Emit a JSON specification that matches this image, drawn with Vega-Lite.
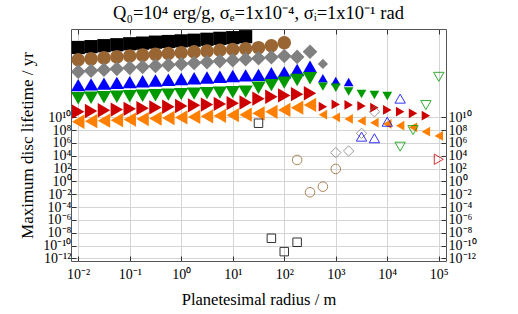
{
  "$schema": "https://vega.github.io/schema/vega-lite/v6.json",
  "width": 375,
  "height": 232,
  "autosize": {"type": "none"},
  "padding": {"left": 71, "top": 29, "right": 72, "bottom": 53},
  "title": {"text": "Q₀=10⁴ erg/g, σₑ=1x10⁻⁴, σᵢ=1x10⁻¹ rad", "font": "Liberation Serif", "fontSize": 18.5, "fontWeight": "normal", "color": "#000", "offset": 6, "anchor": "middle"},
  "config": {
    "view": {"stroke": "#555", "strokeWidth": 1},
    "axis": {"labelFont": "Liberation Serif", "labelFontSize": 14, "labelColor": "#000", "titleFont": "Liberation Serif", "titleFontSize": 16.5, "titleFontWeight": "normal", "titleColor": "#000", "domain": false, "tickColor": "#333", "tickSize": -5, "gridColor": "#d4d4d4", "gridWidth": 1, "labelOverlap": false, "labelBound": false, "labelFlush": false}
  },
  "datasets": {
    "filled": [
      {"series":"black","group":"big","log_radius":-2,"log_lifetime":20.87},
      {"series":"black","group":"big","log_radius":-1.75,"log_lifetime":21.0},
      {"series":"black","group":"big","log_radius":-1.5,"log_lifetime":21.15},
      {"series":"black","group":"big","log_radius":-1.25,"log_lifetime":21.3},
      {"series":"black","group":"big","log_radius":-1,"log_lifetime":21.45},
      {"series":"black","group":"big","log_radius":-0.75,"log_lifetime":21.55},
      {"series":"black","group":"big","log_radius":-0.5,"log_lifetime":21.7},
      {"series":"black","group":"big","log_radius":-0.25,"log_lifetime":21.8},
      {"series":"black","group":"big","log_radius":0,"log_lifetime":21.9},
      {"series":"black","group":"big","log_radius":0.25,"log_lifetime":22.0},
      {"series":"black","group":"big","log_radius":0.5,"log_lifetime":22.15},
      {"series":"black","group":"big","log_radius":0.75,"log_lifetime":22.3},
      {"series":"black","group":"big","log_radius":1,"log_lifetime":22.4},
      {"series":"black","group":"big","log_radius":1.25,"log_lifetime":22.55},

      {"series":"brown","group":"big","log_radius":-2,"log_lifetime":18.95},
      {"series":"brown","group":"big","log_radius":-1.75,"log_lifetime":19.1},
      {"series":"brown","group":"big","log_radius":-1.5,"log_lifetime":19.25},
      {"series":"brown","group":"big","log_radius":-1.25,"log_lifetime":19.4},
      {"series":"brown","group":"big","log_radius":-1,"log_lifetime":19.55},
      {"series":"brown","group":"big","log_radius":-0.75,"log_lifetime":19.68},
      {"series":"brown","group":"big","log_radius":-0.5,"log_lifetime":19.8},
      {"series":"brown","group":"big","log_radius":-0.25,"log_lifetime":19.93},
      {"series":"brown","group":"big","log_radius":0,"log_lifetime":20.05},
      {"series":"brown","group":"big","log_radius":0.25,"log_lifetime":20.18},
      {"series":"brown","group":"big","log_radius":0.5,"log_lifetime":20.3},
      {"series":"brown","group":"big","log_radius":0.75,"log_lifetime":20.43},
      {"series":"brown","group":"big","log_radius":1,"log_lifetime":20.55},
      {"series":"brown","group":"big","log_radius":1.25,"log_lifetime":20.68},
      {"series":"brown","group":"big","log_radius":1.5,"log_lifetime":20.84},
      {"series":"brown","group":"big","log_radius":1.75,"log_lifetime":21.15},
      {"series":"brown","group":"big","log_radius":2,"log_lifetime":21.6},

      {"series":"gray","group":"big","log_radius":-2,"log_lifetime":17.1},
      {"series":"gray","group":"big","log_radius":-1.75,"log_lifetime":17.25},
      {"series":"gray","group":"big","log_radius":-1.5,"log_lifetime":17.4},
      {"series":"gray","group":"big","log_radius":-1.25,"log_lifetime":17.55},
      {"series":"gray","group":"big","log_radius":-1,"log_lifetime":17.7},
      {"series":"gray","group":"big","log_radius":-0.75,"log_lifetime":17.85},
      {"series":"gray","group":"big","log_radius":-0.5,"log_lifetime":18.0},
      {"series":"gray","group":"big","log_radius":-0.25,"log_lifetime":18.15},
      {"series":"gray","group":"big","log_radius":0,"log_lifetime":18.3},
      {"series":"gray","group":"big","log_radius":0.25,"log_lifetime":18.45},
      {"series":"gray","group":"big","log_radius":0.5,"log_lifetime":18.6},
      {"series":"gray","group":"big","log_radius":0.75,"log_lifetime":18.75},
      {"series":"gray","group":"big","log_radius":1,"log_lifetime":18.9},
      {"series":"gray","group":"big","log_radius":1.25,"log_lifetime":19.05},
      {"series":"gray","group":"big","log_radius":1.5,"log_lifetime":19.2},
      {"series":"gray","group":"big","log_radius":1.75,"log_lifetime":19.35},
      {"series":"gray","group":"big","log_radius":2,"log_lifetime":19.55},
      {"series":"gray","group":"big","log_radius":2.25,"log_lifetime":19.4},
      {"series":"gray","group":"big","log_radius":2.5,"log_lifetime":20.2},
      {"series":"gray","group":"small","log_radius":2.75,"log_lifetime":18.3},

      {"series":"blue","group":"big","log_radius":-2,"log_lifetime":15.0},
      {"series":"blue","group":"big","log_radius":-1.75,"log_lifetime":15.12},
      {"series":"blue","group":"big","log_radius":-1.5,"log_lifetime":15.24},
      {"series":"blue","group":"big","log_radius":-1.25,"log_lifetime":15.36},
      {"series":"blue","group":"big","log_radius":-1,"log_lifetime":15.48},
      {"series":"blue","group":"big","log_radius":-0.75,"log_lifetime":15.6},
      {"series":"blue","group":"big","log_radius":-0.5,"log_lifetime":15.72},
      {"series":"blue","group":"big","log_radius":-0.25,"log_lifetime":15.84},
      {"series":"blue","group":"big","log_radius":0,"log_lifetime":15.96},
      {"series":"blue","group":"big","log_radius":0.25,"log_lifetime":16.08},
      {"series":"blue","group":"big","log_radius":0.5,"log_lifetime":16.2},
      {"series":"blue","group":"big","log_radius":0.75,"log_lifetime":16.32},
      {"series":"blue","group":"big","log_radius":1,"log_lifetime":16.44},
      {"series":"blue","group":"big","log_radius":1.25,"log_lifetime":16.52},
      {"series":"blue","group":"big","log_radius":1.5,"log_lifetime":16.6},
      {"series":"blue","group":"big","log_radius":1.75,"log_lifetime":16.85},
      {"series":"blue","group":"big","log_radius":2,"log_lifetime":17.0},
      {"series":"blue","group":"big","log_radius":2.25,"log_lifetime":17.37},
      {"series":"blue","group":"big","log_radius":2.5,"log_lifetime":17.88},
      {"series":"blue","group":"small","log_radius":2.75,"log_lifetime":16.07},
      {"series":"blue","group":"small","log_radius":3,"log_lifetime":15.65},
      {"series":"blue","group":"small","log_radius":3.25,"log_lifetime":15.5},

      {"series":"green","group":"big","log_radius":-2,"log_lifetime":12.96},
      {"series":"green","group":"big","log_radius":-1.75,"log_lifetime":13.04},
      {"series":"green","group":"big","log_radius":-1.5,"log_lifetime":13.12},
      {"series":"green","group":"big","log_radius":-1.25,"log_lifetime":13.2},
      {"series":"green","group":"big","log_radius":-1,"log_lifetime":13.28},
      {"series":"green","group":"big","log_radius":-0.75,"log_lifetime":13.36},
      {"series":"green","group":"big","log_radius":-0.5,"log_lifetime":13.44},
      {"series":"green","group":"big","log_radius":-0.25,"log_lifetime":13.52},
      {"series":"green","group":"big","log_radius":0,"log_lifetime":13.6},
      {"series":"green","group":"big","log_radius":0.25,"log_lifetime":13.68},
      {"series":"green","group":"big","log_radius":0.5,"log_lifetime":13.76},
      {"series":"green","group":"big","log_radius":0.75,"log_lifetime":13.84},
      {"series":"green","group":"big","log_radius":1,"log_lifetime":13.92},
      {"series":"green","group":"big","log_radius":1.25,"log_lifetime":14.0},
      {"series":"green","group":"big","log_radius":1.5,"log_lifetime":14.6},
      {"series":"green","group":"big","log_radius":1.75,"log_lifetime":15.0},
      {"series":"green","group":"big","log_radius":2,"log_lifetime":15.4},
      {"series":"green","group":"big","log_radius":2.25,"log_lifetime":15.8},
      {"series":"green","group":"big","log_radius":2.5,"log_lifetime":16.07},
      {"series":"green","group":"small","log_radius":2.75,"log_lifetime":14.77},
      {"series":"green","group":"small","log_radius":3,"log_lifetime":14.6},
      {"series":"green","group":"small","log_radius":3.25,"log_lifetime":14.0},
      {"series":"green","group":"small","log_radius":3.5,"log_lifetime":13.63},
      {"series":"green","group":"small","log_radius":3.75,"log_lifetime":13.47},
      {"series":"green","group":"small","log_radius":4,"log_lifetime":13.32},

      {"series":"red","group":"big","log_radius":-2,"log_lifetime":10.87},
      {"series":"red","group":"big","log_radius":-1.75,"log_lifetime":10.98},
      {"series":"red","group":"big","log_radius":-1.5,"log_lifetime":11.09},
      {"series":"red","group":"big","log_radius":-1.25,"log_lifetime":11.2},
      {"series":"red","group":"big","log_radius":-1,"log_lifetime":11.31},
      {"series":"red","group":"big","log_radius":-0.75,"log_lifetime":11.42},
      {"series":"red","group":"big","log_radius":-0.5,"log_lifetime":11.53},
      {"series":"red","group":"big","log_radius":-0.25,"log_lifetime":11.64},
      {"series":"red","group":"big","log_radius":0,"log_lifetime":11.75},
      {"series":"red","group":"big","log_radius":0.25,"log_lifetime":11.86},
      {"series":"red","group":"big","log_radius":0.5,"log_lifetime":11.97},
      {"series":"red","group":"big","log_radius":0.75,"log_lifetime":12.08},
      {"series":"red","group":"big","log_radius":1,"log_lifetime":12.19},
      {"series":"red","group":"big","log_radius":1.25,"log_lifetime":12.3},
      {"series":"red","group":"big","log_radius":1.5,"log_lifetime":12.9},
      {"series":"red","group":"big","log_radius":1.75,"log_lifetime":13.2},
      {"series":"red","group":"big","log_radius":2,"log_lifetime":13.4},
      {"series":"red","group":"big","log_radius":2.25,"log_lifetime":13.6},
      {"series":"red","group":"big","log_radius":2.5,"log_lifetime":13.74},
      {"series":"red","group":"small","log_radius":2.75,"log_lifetime":11.65},
      {"series":"red","group":"small","log_radius":3,"log_lifetime":12.0},
      {"series":"red","group":"small","log_radius":3.25,"log_lifetime":11.92},
      {"series":"red","group":"small","log_radius":3.5,"log_lifetime":11.76},
      {"series":"red","group":"small","log_radius":3.75,"log_lifetime":11.5},
      {"series":"red","group":"small","log_radius":4,"log_lifetime":11.14},
      {"series":"red","group":"small","log_radius":4.25,"log_lifetime":10.87},
      {"series":"red","group":"small","log_radius":4.5,"log_lifetime":10.62},
      {"series":"red","group":"small","log_radius":4.75,"log_lifetime":10.25},

      {"series":"orange","group":"big","log_radius":-2,"log_lifetime":9.3},
      {"series":"orange","group":"big","log_radius":-1.75,"log_lifetime":9.385},
      {"series":"orange","group":"big","log_radius":-1.5,"log_lifetime":9.47},
      {"series":"orange","group":"big","log_radius":-1.25,"log_lifetime":9.55},
      {"series":"orange","group":"big","log_radius":-1,"log_lifetime":9.64},
      {"series":"orange","group":"big","log_radius":-0.75,"log_lifetime":9.72},
      {"series":"orange","group":"big","log_radius":-0.5,"log_lifetime":9.81},
      {"series":"orange","group":"big","log_radius":-0.25,"log_lifetime":9.89},
      {"series":"orange","group":"big","log_radius":0,"log_lifetime":9.98},
      {"series":"orange","group":"big","log_radius":0.25,"log_lifetime":10.06},
      {"series":"orange","group":"big","log_radius":0.5,"log_lifetime":10.15},
      {"series":"orange","group":"big","log_radius":0.75,"log_lifetime":10.23},
      {"series":"orange","group":"big","log_radius":1,"log_lifetime":10.32},
      {"series":"orange","group":"big","log_radius":1.25,"log_lifetime":10.4},
      {"series":"orange","group":"big","log_radius":1.5,"log_lifetime":10.62},
      {"series":"orange","group":"big","log_radius":1.75,"log_lifetime":10.85},
      {"series":"orange","group":"big","log_radius":2,"log_lifetime":11.14},
      {"series":"orange","group":"big","log_radius":2.25,"log_lifetime":11.5},
      {"series":"orange","group":"big","log_radius":2.5,"log_lifetime":11.92},
      {"series":"orange","group":"small","log_radius":2.75,"log_lifetime":10.4},
      {"series":"orange","group":"small","log_radius":3,"log_lifetime":10.0},
      {"series":"orange","group":"small","log_radius":3.25,"log_lifetime":9.74},
      {"series":"orange","group":"small","log_radius":3.5,"log_lifetime":9.42},
      {"series":"orange","group":"small","log_radius":3.75,"log_lifetime":9.16},
      {"series":"orange","group":"small","log_radius":4,"log_lifetime":8.96},
      {"series":"orange","group":"small","log_radius":4.25,"log_lifetime":8.69},
      {"series":"orange","group":"small","log_radius":4.5,"log_lifetime":8.44},
      {"series":"orange","group":"small","log_radius":4.75,"log_lifetime":7.76},
      {"series":"orange","group":"small","log_radius":5,"log_lifetime":7.09}
    ],
    "open": [
      {"series":"black","group":"open","log_radius":1.5,"log_lifetime":9.07},
      {"series":"black","group":"open","log_radius":1.75,"log_lifetime":-8.85},
      {"series":"black","group":"open","log_radius":2,"log_lifetime":-10.93},
      {"series":"black","group":"open","log_radius":2.25,"log_lifetime":-9.47},
      {"series":"brown","group":"open","log_radius":2.25,"log_lifetime":3.35},
      {"series":"brown","group":"open","log_radius":2.5,"log_lifetime":-1.68},
      {"series":"brown","group":"open","log_radius":2.75,"log_lifetime":-0.81},
      {"series":"brown","group":"open","log_radius":3,"log_lifetime":1.95},
      {"series":"gray","group":"open","log_radius":3,"log_lifetime":4.49},
      {"series":"gray","group":"open","log_radius":3.25,"log_lifetime":4.75},
      {"series":"gray","group":"open","log_radius":3.5,"log_lifetime":7.5},
      {"series":"gray","group":"open","log_radius":3.75,"log_lifetime":10.87},
      {"series":"blue","group":"open","log_radius":3.5,"log_lifetime":6.98},
      {"series":"blue","group":"open","log_radius":3.75,"log_lifetime":6.73},
      {"series":"blue","group":"open","log_radius":4,"log_lifetime":9.3},
      {"series":"blue","group":"open","log_radius":4.25,"log_lifetime":12.9},
      {"series":"green","group":"open","log_radius":4.25,"log_lifetime":5.42},
      {"series":"green","group":"open","log_radius":4.5,"log_lifetime":8.0},
      {"series":"green","group":"open","log_radius":4.75,"log_lifetime":11.9},
      {"series":"green","group":"open","log_radius":5,"log_lifetime":16.3},
      {"series":"red","group":"open","log_radius":5,"log_lifetime":3.46}
    ]
  },
  "layer": [
    {
      "data": {"name": "filled"},
      "mark": {"type": "point", "filled": true, "opacity": 1, "strokeWidth": 0},
      "encoding": {
        "x": {"field": "log_radius", "type": "quantitative", "scale": {"domain": [-2.14, 5.14], "nice": false, "zero": false},
              "axis": {"orient": "bottom", "values": [-2,-1,0,1,2,3,4,5], "grid": true, "labelPadding": 11, "title": "Planetesimal radius / m", "titlePadding": 10,
                       "labelExpr": "'10' + replace(replace(replace(replace(replace(replace(replace(replace(replace(replace(replace(toString(datum.value),'-','⁻'),'0','⁰'),'1','¹'),'2','²'),'3','³'),'4','⁴'),'5','⁵'),'6','⁶'),'7','⁷'),'8','⁸'),'9','⁹')"}},
        "y": {"field": "log_lifetime", "type": "quantitative", "scale": {"domain": [-12.39, 23.75], "nice": false, "zero": false},
              "axis": {"orient": "left", "values": [-12,-10,-8,-6,-4,-2,0,2,4,6,8,10], "grid": true, "labelPadding": 5, "title": "Maximum disc lifetime / yr", "titlePadding": 6, "titleFontSize": 17,
                       "labelExpr": "'10' + replace(replace(replace(replace(replace(replace(replace(replace(replace(replace(replace(toString(datum.value),'-','⁻'),'0','⁰'),'1','¹'),'2','²'),'3','³'),'4','⁴'),'5','⁵'),'6','⁶'),'7','⁷'),'8','⁸'),'9','⁹')"}},
        "color": {"field": "series", "type": "nominal", "legend": null, "scale": {"domain": ["black","brown","gray","blue","green","red","orange"], "range": ["#000000","#996633","#808080","#0000ff","#009900","#cc0000","#ff8000"]}},
        "shape": {"field": "series", "type": "nominal", "legend": null, "scale": {"domain": ["black","brown","gray","blue","green","red","orange"], "range": ["square","circle","diamond","triangle-up","triangle-down","triangle-right","triangle-left"]}},
        "size": {"condition": [
                   {"test": "datum.group === 'big' && datum.series === 'black'", "value": 175},
                   {"test": "datum.group === 'big' && datum.series === 'brown'", "value": 185},
                   {"test": "datum.group === 'big' && datum.series === 'gray'", "value": 215},
                   {"test": "datum.group === 'big'", "value": 205},
                   {"test": "datum.series === 'gray'", "value": 105}
                 ], "value": 95}
      }
    },
    {
      "data": {"name": "open"},
      "mark": {"type": "point", "filled": false, "opacity": 0.8, "strokeWidth": 1},
      "encoding": {
        "x": {"field": "log_radius", "type": "quantitative",
              "axis": {"orient": "top", "values": [-2,-1,0,1,2,3,4,5], "grid": false, "labels": false, "title": null}},
        "y": {"field": "log_lifetime", "type": "quantitative",
              "axis": {"orient": "right", "values": [-12,-10,-8,-6,-4,-2,0,2,4,6,8,10], "grid": false, "labelPadding": 7, "title": null,
                       "labelExpr": "'10' + replace(replace(replace(replace(replace(replace(replace(replace(replace(replace(replace(toString(datum.value),'-','⁻'),'0','⁰'),'1','¹'),'2','²'),'3','³'),'4','⁴'),'5','⁵'),'6','⁶'),'7','⁷'),'8','⁸'),'9','⁹')"}},
        "color": {"field": "series", "type": "nominal", "legend": null},
        "shape": {"field": "series", "type": "nominal", "legend": null},
        "size": {"condition": [
                   {"test": "datum.series === 'black'", "value": 72},
                   {"test": "datum.series === 'brown'", "value": 92}
                 ], "value": 108}
      }
    }
  ],
  "resolve": {"axis": {"x": "independent", "y": "independent"}}
}
